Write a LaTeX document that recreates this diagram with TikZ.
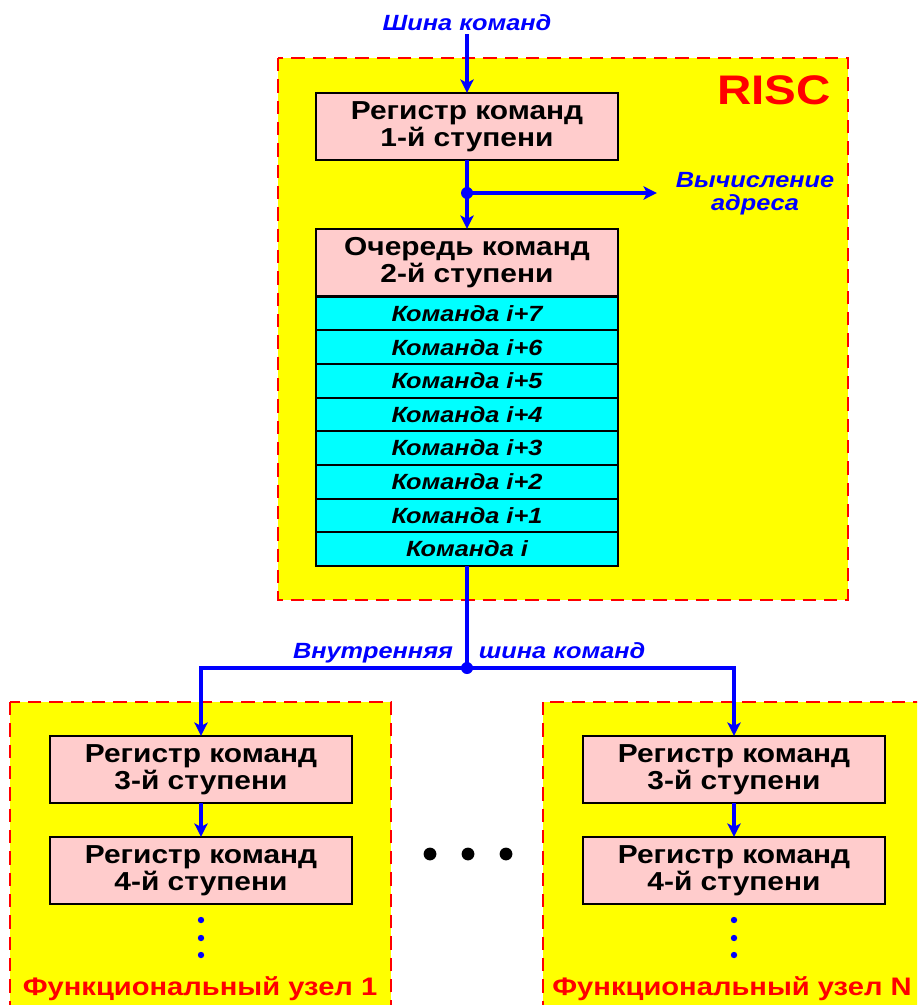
\documentclass[tikz,border=0pt]{standalone}
\usepackage{fontspec}
\setmainfont{Liberation Sans}[FakeStretch=1.15]
\usetikzlibrary{arrows.meta}

\definecolor{fuyellow}{RGB}{255,255,0}
\definecolor{framered}{RGB}{255,0,0}
\definecolor{regpink}{RGB}{255,204,204}
\definecolor{cmdcyan}{RGB}{0,255,255}
\definecolor{busblue}{RGB}{0,0,255}

\tikzset{
  unit/.style={draw=framered, fill=fuyellow, line width=1.5pt, dash pattern=on 10pt off 6pt},
  reg/.style={draw, fill=regpink, line width=1.5pt, minimum width=227pt, minimum height=50.5pt,
    inner sep=0pt, outer sep=0pt, align=center, font=\fontsize{19.5}{20}\selectfont\bfseries},
  cmd/.style={draw, fill=cmdcyan, line width=1.5pt, minimum width=227pt, minimum height=25.3pt,
    inner sep=0pt, outer sep=0pt, font=\fontsize{16.5}{17}\selectfont\bfseries\itshape},
  bus/.style={draw=busblue, line width=2.6pt},
  busarrow/.style={bus, -{Stealth[length=10pt,width=10pt,inset=2.5pt]}},
  buslabel/.style={text=busblue, inner sep=2pt, font=\fontsize{16.5}{17.5}\selectfont\bfseries\itshape},
  unitlabel/.style={text=framered, inner sep=0pt, font=\fontsize{19}{20}\selectfont\bfseries},
}

\begin{document}
\begin{tikzpicture}[x=0.75pt,y=0.75pt]
\useasboundingbox (0,0) rectangle (917,-1005);
\clip (0,0) rectangle (917,-1005);

% processor
\filldraw[unit] (278,-58) rectangle (848,-600);
\node[text=framered, inner sep=0pt, anchor=base east, font=\fontsize{31}{31}\selectfont\bfseries] (risc) at (831,-105) {RISC};

\node[buslabel, anchor=base] (cmdbus) at (467,-31) {Шина команд};
\node[reg] (reg1) at (467,-126.5) {Регистр команд\\1-й ступени};
\node[reg] (queue) at (467,-262.5) {Очередь команд\\2-й ступени};
\foreach \n/\t [count=\j from 0] in {7/i+7,6/i+6,5/i+5,4/i+4,3/i+3,2/i+2,1/i+1,0/i}
  \node[cmd] (cmd\n) at (467,{-313.5-33.65*\j}) {Команда \t};

\draw[busarrow] (cmdbus) -- (reg1);
\coordinate (j1) at (467,-193);
\node[buslabel, align=center] (addr) at (755,-194) {Вычисление\\адреса};
\draw[bus] (reg1) -- (j1);
\draw[busarrow] (j1) -- (queue);
\draw[busarrow, shorten >=12pt] (j1) -- (j1 -| addr.west);
\fill[busblue] (j1) circle (4.5pt);

% internal bus
\coordinate (j2) at (467,-668);
\node[buslabel, anchor=base east] (intbusA) at (456,-658) {Внутренняя};
\node[buslabel, anchor=base west] (intbusB) at (476,-658) {шина команд};

% functional units
\filldraw[unit] (10,-702) rectangle (391,-1030);
\filldraw[unit] (543,-702) rectangle (940,-1030);

\node[reg] (reg3a) at (201,-769.5) {Регистр команд\\3-й ступени};
\node[reg] (reg4a) at (201,-870.5) {Регистр команд\\4-й ступени};
\node[reg] (reg3b) at (734,-769.5) {Регистр команд\\3-й ступени};
\node[reg] (reg4b) at (734,-870.5) {Регистр команд\\4-й ступени};

\draw[bus] (cmd0) -- (j2);
\draw[busarrow] (j2) -| (reg3a);
\draw[busarrow] (j2) -| (reg3b);
\fill[busblue] (j2) circle (4.5pt);
\draw[busarrow] (reg3a) -- (reg4a);
\draw[busarrow] (reg3b) -- (reg4b);

\foreach \y in {920,938,955} {
  \fill[busblue] (201,-\y) circle (2.4pt);
  \fill[busblue] (734,-\y) circle (2.4pt);
}
\foreach \x in {430,468,506}
  \fill (\x,-854) circle (4.8pt);

\node[unitlabel, anchor=base] (fu1) at (200,-995) {Функциональный узел 1};
\node[unitlabel, anchor=base] (fuN) at (732,-995) {Функциональный узел N};
\end{tikzpicture}
\end{document}
